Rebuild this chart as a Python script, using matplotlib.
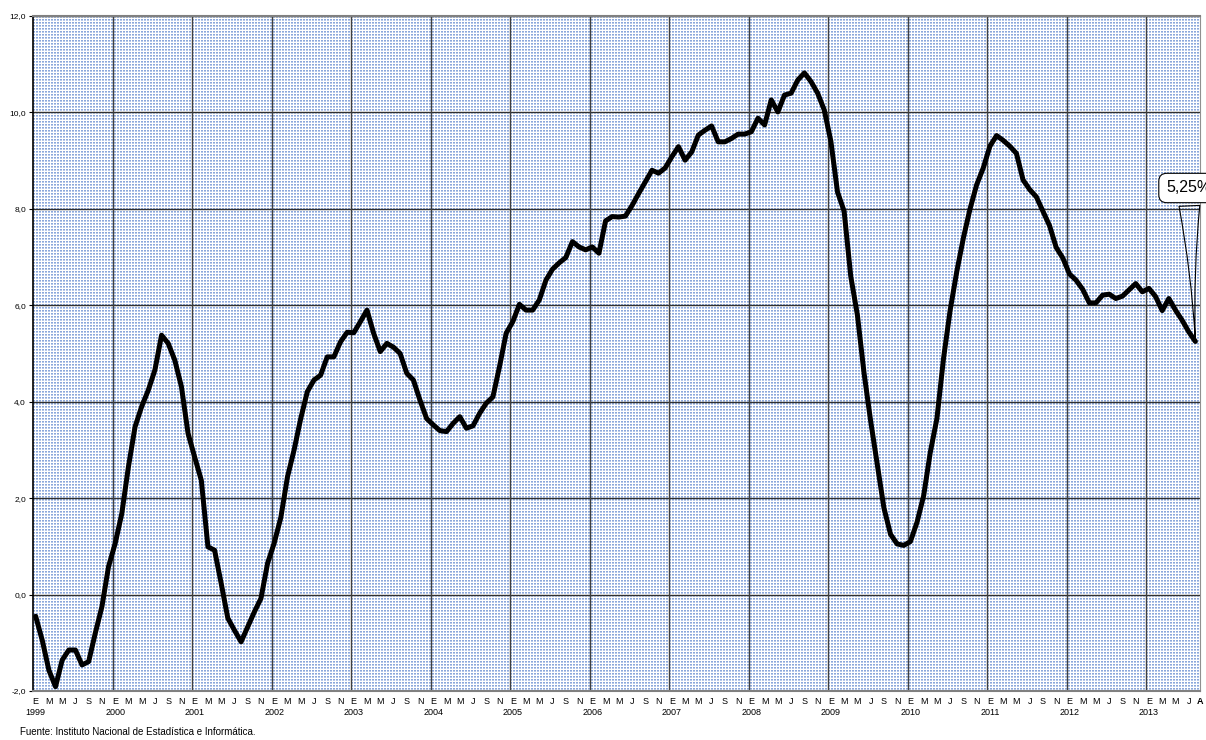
import matplotlib
matplotlib.use('Agg')
import matplotlib.pyplot as plt
import matplotlib.transforms as mtransforms
import numpy as np

plt.rcParams['font.family'] = ['Liberation Sans Narrow', 'Liberation Sans', 'DejaVu Sans']

# datos mensuales, enero 1999 - agosto 2013
years = ['1999', '2000', '2001', '2002', '2003', '2004', '2005',
         '2006', '2007', '2008', '2009', '2010', '2011', '2012', '2013']
month_letters = ['E', 'F', 'M', 'A', 'M', 'J', 'J', 'A', 'S', 'O', 'N', 'D']

values = [
    -0.45, -0.95, -1.57, -1.91, -1.36, -1.15, -1.15, -1.46, -1.39, -0.80, -0.25, 0.58,   # 1999
    1.06, 1.68, 2.65, 3.48, 3.90, 4.24, 4.66, 5.38, 5.21, 4.86, 4.31, 3.34,             # 2000
    2.85, 2.37, 0.99, 0.92, 0.23, -0.49, -0.74, -0.98, -0.67, -0.36, -0.08, 0.65,       # 2001
    1.07, 1.60, 2.44, 3.00, 3.65, 4.21, 4.45, 4.55, 4.93, 4.93, 5.24, 5.44,             # 2002
    5.43, 5.66, 5.90, 5.42, 5.04, 5.21, 5.13, 5.00, 4.59, 4.45, 4.03, 3.65,             # 2003
    3.52, 3.40, 3.38, 3.55, 3.69, 3.45, 3.50, 3.76, 3.97, 4.10, 4.73, 5.42,             # 2004
    5.66, 6.02, 5.90, 5.90, 6.11, 6.52, 6.75, 6.88, 6.99, 7.32, 7.21, 7.15,             # 2005
    7.21, 7.08, 7.75, 7.84, 7.83, 7.85, 8.07, 8.32, 8.56, 8.80, 8.74, 8.85,             # 2006
    9.08, 9.29, 9.01, 9.18, 9.53, 9.63, 9.72, 9.39, 9.39, 9.46, 9.55, 9.55,             # 2007
    9.60, 9.88, 9.74, 10.26, 10.01, 10.36, 10.40, 10.67, 10.82, 10.64, 10.40, 10.05,    # 2008
    9.40, 8.35, 7.95, 6.60, 5.80, 4.60, 3.60, 2.70, 1.80, 1.25, 1.05, 1.02,             # 2009
    1.10, 1.50, 2.05, 2.95, 3.65, 4.90, 5.90, 6.70, 7.40, 8.00, 8.50, 8.85,             # 2010
    9.30, 9.52, 9.42, 9.30, 9.15, 8.60, 8.40, 8.25, 7.95, 7.65, 7.20, 6.98,             # 2011
    6.65, 6.52, 6.33, 6.05, 6.05, 6.21, 6.23, 6.14, 6.19, 6.32, 6.45, 6.28,             # 2012
    6.35, 6.18, 5.89, 6.14, 5.90, 5.69, 5.45, 5.25,                                     # 2013
]
last_label = '5,25%'
source = 'Fuente: Instituto Nacional de Estadística e Informática.'

n = len(values)
x = np.arange(n)

fig = plt.figure(figsize=(12.06, 7.40), dpi=100)
ax = fig.add_axes([33 / 1206, 49 / 740, 1167 / 1206, 675 / 740])

# fondo punteado azul
h, w = 675, 1167
rr, cc = np.mgrid[0:h, 0:w]
bg = np.ones((h, w, 3))
bg[((rr % 3) == 0) & ((cc % 3) < 2)] = [0.55, 0.66, 0.86]
bg[((rr % 3) == 1) & ((cc % 3) < 2)] = [0.72, 0.79, 0.92]
ax.imshow(bg, extent=[0, 1, 0, 1], transform=ax.transAxes, aspect='auto',
          interpolation='nearest', zorder=0)

x0, x1 = -0.4, n - 0.3
for v in range(-2, 13, 2):
    ax.axhline(v, color='#303030', lw=1.0, zorder=1)
for k in range(1, len(years)):
    ax.axvline(12 * k + x0, color='#404040', lw=1.0, zorder=1)

ax.plot(x, values, color='black', lw=3.6, solid_joinstyle='round',
        solid_capstyle='round', zorder=3)

ax.set_xlim(x0, x1)
ax.set_ylim(-2, 12)

ax.set_yticks(range(-2, 13, 2))
ax.set_yticklabels([('%.1f' % v).replace('.', ',') for v in range(-2, 13, 2)])
ax.tick_params(axis='y', labelsize=6, length=3, width=0.8, pad=2)

ticks = list(range(0, n - 1, 2)) + [n - 1]
labels = []
for t in ticks:
    lab = month_letters[t % 12]
    if t == n - 1:
        lab = 'A'
    if t % 12 == 0:
        lab = lab + '\n' + years[t // 12]
    labels.append(lab)
ax.set_xticks(ticks)
ax.set_xticklabels(labels, linespacing=1.4)
ax.tick_params(axis='x', labelsize=6.5, length=0, pad=4)
last_tick = ax.get_xticklabels()[-1]
last_tick.set_fontweight('bold')
last_tick.set_transform(last_tick.get_transform() +
                        mtransforms.ScaledTranslation(5 / 100, 0, fig.dpi_scale_trans))

for s in ['top', 'bottom']:
    ax.spines[s].set_color('#808080')
    ax.spines[s].set_linewidth(1.5)
ax.spines['left'].set_color('black')
ax.spines['left'].set_linewidth(1.2)
ax.spines['right'].set_color('#909090')
ax.spines['right'].set_linewidth(0.8)

ax.annotate(last_label, xy=(x[-1], values[-1]), xytext=(1166, 740 - 188),
            textcoords='figure pixels', ha='left', va='center', fontsize=11.5,
            family=['Liberation Sans', 'DejaVu Sans'],
            bbox=dict(boxstyle='round,pad=0.45,rounding_size=0.5', fc='white',
                      ec='black', lw=0.8),
            arrowprops=dict(arrowstyle='wedge,tail_width=1.3,shrink_factor=0.3',
                            fc='none', ec='black', lw=0.8),
            annotation_clip=False, zorder=5)

fig.text(20 / 1206, 1 - 732 / 740, source, fontsize=7, va='center', ha='left')

fig.savefig('out.png', dpi=100)
